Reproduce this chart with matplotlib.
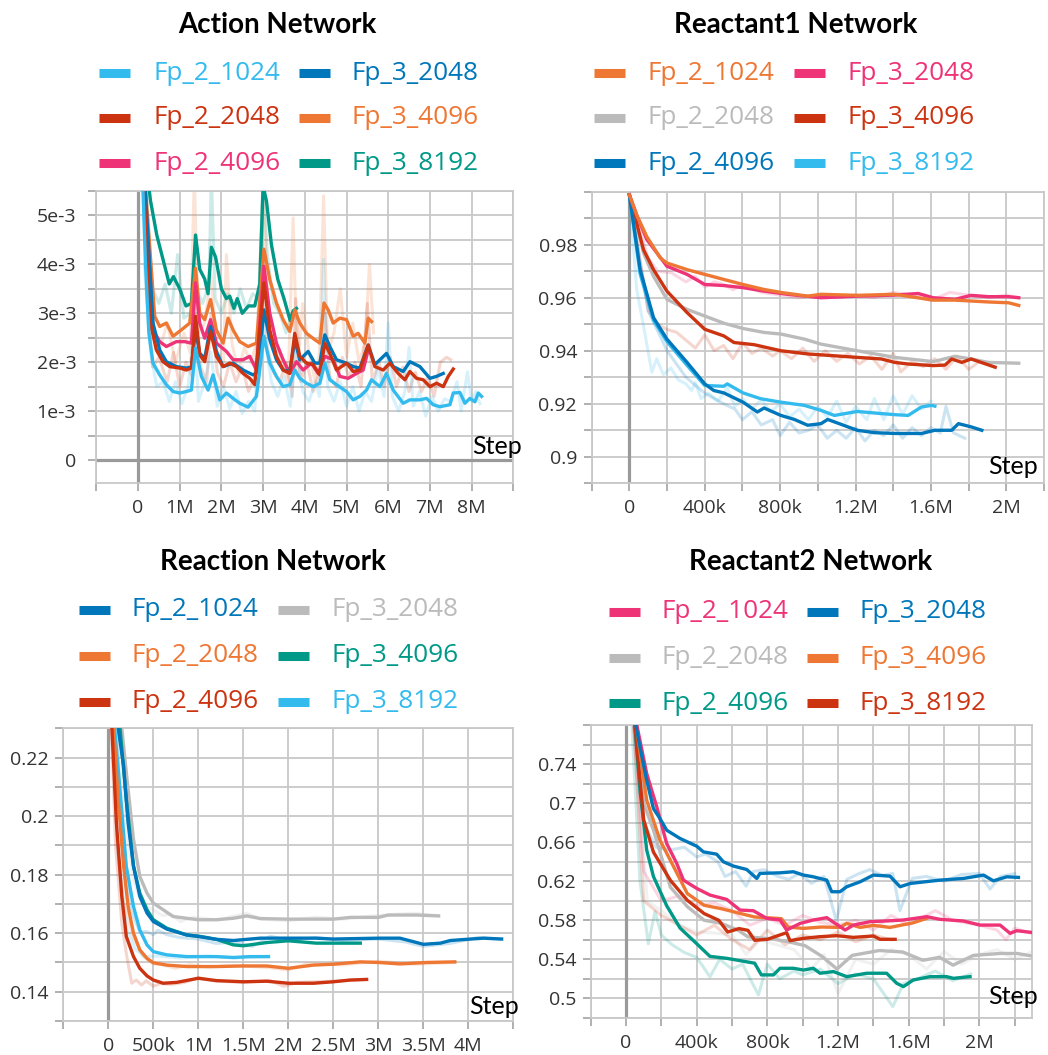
import matplotlib
matplotlib.use('Agg')
import matplotlib.pyplot as plt
from matplotlib.lines import Line2D
from matplotlib.ticker import FixedLocator, FixedFormatter

W, H = 1048, 1055
C_LB = '#33bbee'; C_DB = '#0077bb'; C_RD = '#cc3311'; C_OR = '#ee7733'
C_PK = '#ee3377'; C_TL = '#009988'; C_GR = '#bbbbbb'

# ---------------- Action Network (x in M steps, y in 1e-3) ----------------
act_fp2_1024_x = [0.1, 0.18, 0.26, 0.36, 0.52, 0.68, 0.84, 1.0, 1.16, 1.28, 1.38, 1.52, 1.68, 1.8, 1.96, 2.12, 2.28, 2.44, 2.64, 2.84, 3.02, 3.16, 3.32, 3.48, 3.64, 3.76, 3.88, 4.04, 4.2, 4.36, 4.48, 4.6, 4.76, 5.0, 5.16, 5.32, 5.48, 5.6, 5.8, 5.96, 6.12, 6.36, 6.52, 6.76, 6.92, 7.08, 7.24, 7.48, 7.56, 7.72, 7.84, 7.96, 8.08, 8.16, 8.24]
act_fp2_1024_y = [6.0, 4.0, 2.6, 1.98, 1.74, 1.54, 1.40, 1.37, 1.40, 1.43, 2.29, 1.71, 1.43, 1.74, 1.23, 1.37, 1.26, 1.16, 1.08, 1.30, 2.53, 1.98, 1.71, 1.50, 1.54, 1.84, 1.67, 1.57, 1.50, 1.57, 1.98, 1.64, 1.54, 1.40, 1.23, 1.30, 1.43, 1.64, 1.50, 1.77, 1.43, 1.16, 1.23, 1.23, 1.26, 1.13, 1.09, 1.13, 1.37, 1.38, 1.16, 1.26, 1.19, 1.37, 1.30]
act_fp2_2048_x = [0.12, 0.28, 0.44, 0.6, 0.76, 1.0, 1.16, 1.28, 1.38, 1.48, 1.6, 1.74, 1.88, 2.04, 2.2, 2.36, 2.52, 2.68, 2.8, 3.02, 3.16, 3.32, 3.48, 3.64, 3.76, 3.88, 4.04, 4.2, 4.36, 4.48, 4.6, 4.76, 5.0, 5.16, 5.32, 5.52, 5.68, 5.88, 6.04, 6.24, 6.4, 6.52, 6.68, 6.84, 7.0, 7.16, 7.32, 7.44, 7.56]
act_fp2_2048_y = [6.0, 2.87, 2.25, 2.01, 1.91, 1.88, 1.84, 1.88, 2.94, 2.15, 2.01, 2.63, 2.12, 1.91, 1.98, 1.91, 1.77, 1.67, 1.54, 3.62, 2.66, 2.12, 1.84, 1.77, 2.59, 2.12, 1.98, 1.95, 1.74, 2.39, 2.18, 1.84, 1.98, 1.81, 1.84, 2.35, 1.91, 1.84, 1.98, 1.77, 1.64, 1.81, 1.67, 1.64, 1.50, 1.57, 1.50, 1.71, 1.86]
act_fp2_4096_x = [0.14, 0.36, 0.52, 0.68, 0.92, 1.12, 1.28, 1.38, 1.48, 1.6, 1.74, 1.88, 2.12, 2.28, 2.52, 2.68, 2.84, 3.02, 3.16, 3.32, 3.48, 3.64, 3.8, 3.96, 4.16, 4.32, 4.48, 4.68, 4.84, 5.04, 5.24, 5.4, 5.52]
act_fp2_4096_y = [6.0, 2.66, 2.42, 2.32, 2.42, 2.42, 2.39, 3.62, 2.8, 2.49, 2.87, 2.39, 2.22, 2.05, 2.05, 2.12, 1.84, 3.96, 3.0, 2.39, 2.05, 1.77, 2.01, 1.84, 1.98, 1.77, 2.12, 2.05, 1.71, 1.67, 1.77, 1.84, 2.25]
act_fp3_2048_x = [0.14, 0.36, 0.52, 0.68, 0.92, 1.16, 1.28, 1.38, 1.48, 1.6, 1.74, 1.88, 2.04, 2.28, 2.52, 2.76, 2.88, 3.02, 3.16, 3.32, 3.48, 3.64, 3.76, 3.88, 4.08, 4.24, 4.36, 4.48, 4.6, 4.76, 5.0, 5.16, 5.32, 5.52, 5.68, 5.96, 6.12, 6.36, 6.52, 6.76, 7.0, 7.16, 7.32]
act_fp3_2048_y = [6.0, 2.8, 2.25, 2.01, 1.91, 1.88, 1.9, 2.66, 2.18, 2.08, 2.73, 2.22, 1.91, 1.98, 1.84, 1.74, 1.8, 3.07, 2.46, 2.05, 1.84, 1.81, 2.46, 2.05, 2.22, 1.98, 1.98, 2.56, 2.32, 2.05, 1.98, 1.91, 1.88, 2.35, 1.95, 2.18, 1.91, 1.81, 2.01, 1.91, 1.67, 1.71, 1.77]
act_fp3_4096_x = [0.14, 0.4, 0.52, 0.68, 0.84, 1.04, 1.24, 1.38, 1.48, 1.6, 1.74, 1.88, 2.04, 2.16, 2.28, 2.44, 2.64, 2.84, 3.02, 3.16, 3.32, 3.48, 3.64, 3.76, 3.88, 4.04, 4.24, 4.36, 4.46, 4.56, 4.68, 4.84, 5.0, 5.16, 5.28, 5.44, 5.52, 5.6]
act_fp3_4096_y = [6.0, 2.94, 2.73, 2.8, 2.53, 2.66, 2.8, 3.92, 3.0, 2.87, 3.28, 2.66, 2.39, 2.9, 2.66, 2.42, 2.32, 2.39, 4.31, 3.69, 3.21, 2.87, 2.63, 3.07, 2.8, 2.59, 2.46, 2.39, 3.21, 3.07, 2.8, 2.9, 2.87, 2.53, 2.59, 2.39, 2.9, 2.83]
act_fp3_8192_x = [0.2, 0.3, 0.45, 0.6, 0.75, 0.85, 1.0, 1.15, 1.28, 1.38, 1.48, 1.6, 1.68, 1.76, 1.86, 2.0, 2.12, 2.2, 2.3, 2.38, 2.5, 2.65, 2.8, 2.92, 3.0, 3.08, 3.2, 3.35, 3.5, 3.65, 3.72, 3.8]
act_fp3_8192_y = [6.0, 5.3, 4.6, 4.1, 3.6, 3.75, 3.5, 3.15, 3.2, 4.6, 3.9, 3.7, 3.4, 4.35, 4.15, 3.5, 3.3, 3.35, 3.1, 3.3, 3.0, 3.15, 3.15, 3.6, 5.6, 5.3, 4.4, 3.7, 3.3, 2.85, 3.05, 3.1]
# raw (unsmoothed, faint) traces
act_raw_fp2_1024_x = [0.15, 0.3, 0.45, 0.6, 0.75, 0.9, 1.05, 1.2, 1.35, 1.45, 1.6, 1.75, 1.9, 2.05, 2.2, 2.35, 2.5, 2.65, 2.8, 2.95, 3.05, 3.2, 3.35, 3.5, 3.65, 3.8, 3.95, 4.1, 4.25, 4.35, 4.45, 4.55, 4.7, 4.85, 5.0, 5.15, 5.3, 5.45, 5.6, 5.75, 5.9, 6.0, 6.1, 6.25, 6.4, 6.5, 6.6, 6.75, 6.9, 7.05, 7.2, 7.35, 7.5, 7.65, 7.75, 7.9, 8.0, 8.1, 8.2]
act_raw_fp2_1024_y = [4.0, 2.2, 1.5, 1.6, 1.2, 1.6, 1.15, 1.5, 2.8, 1.2, 1.6, 2.2, 1.1, 1.5, 1.05, 1.4, 0.95, 1.2, 1.0, 3.3, 2.4, 1.6, 1.3, 1.7, 1.1, 2.3, 1.4, 1.2, 1.6, 1.3, 4.1, 1.5, 1.2, 1.6, 1.1, 1.5, 1.0, 1.4, 1.2, 1.9, 1.3, 2.8, 1.3, 1.0, 1.4, 2.3, 1.1, 1.4, 0.9, 1.3, 1.0, 1.25, 1.2, 1.6, 1.0, 1.8, 1.2, 1.4, 1.15]
act_raw_fp3_4096_x = [0.1, 0.3, 0.5, 0.7, 0.9, 1.1, 1.25, 1.35, 1.45, 1.6, 1.75, 1.9, 2.05, 2.12, 2.25, 2.4, 2.55, 2.7, 2.85, 3.0, 3.15, 3.3, 3.45, 3.6, 3.72, 3.82, 3.95, 4.1, 4.25, 4.35, 4.45, 4.55, 4.7, 4.85, 5.0, 5.15, 5.3, 5.45, 5.55, 5.65]
act_raw_fp3_4096_y = [6.0, 3.0, 2.2, 2.8, 2.0, 2.6, 2.2, 5.8, 2.6, 2.8, 3.8, 2.2, 2.0, 4.2, 2.4, 1.8, 2.3, 2.0, 2.4, 5.6, 2.5, 2.4, 2.0, 1.6, 4.95, 1.8, 3.2, 2.2, 1.6, 2.2, 5.4, 2.2, 2.6, 3.5, 2.1, 2.8, 2.0, 2.4, 4.0, 2.6]
act_raw_fp2_2048_x = [0.2, 0.35, 0.5, 0.7, 0.85, 1.0, 1.15, 1.3, 1.38, 1.5, 1.65, 1.75, 1.9, 2.05, 2.2, 2.35, 2.5, 2.65, 2.8, 2.98, 3.1, 3.25, 3.4, 3.55, 3.7, 3.78, 3.9, 4.05, 4.2, 4.35, 4.48, 4.6, 4.75, 4.9, 5.05, 5.2, 5.35, 5.5, 5.62, 5.78, 5.9, 6.05, 6.2, 6.35, 6.5, 6.65, 6.8, 6.95, 7.1, 7.25, 7.4, 7.5]
act_raw_fp2_2048_y = [3.5, 1.9, 2.1, 1.6, 2.2, 1.5, 2.0, 1.7, 3.3, 1.9, 1.6, 3.0, 1.8, 1.5, 2.0, 1.6, 1.9, 1.4, 1.7, 4.0, 2.3, 1.8, 1.6, 2.0, 1.3, 3.3, 1.6, 2.0, 1.4, 1.8, 3.0, 1.7, 1.5, 2.1, 1.7, 2.0, 1.5, 3.2, 1.6, 2.0, 1.5, 2.1, 1.5, 1.9, 1.4, 1.8, 1.4, 1.7, 1.3, 2.0, 2.1, 2.05]
act_raw_fp3_8192_x = [0.2, 0.35, 0.5, 0.65, 0.8, 0.95, 1.1, 1.25, 1.4, 1.55, 1.7, 1.76, 1.85, 2.0, 2.15, 2.3, 2.45, 2.6, 2.75, 2.9, 3.0, 3.1, 3.25, 3.4, 3.55, 3.7, 3.8]
act_raw_fp3_8192_y = [5.5, 3.5, 3.2, 3.6, 3.0, 4.2, 2.9, 3.0, 3.5, 3.2, 3.6, 5.8, 3.3, 3.0, 3.4, 3.0, 3.5, 3.1, 3.4, 3.3, 5.8, 4.2, 3.2, 3.0, 2.6, 3.0, 2.9]
act_xticks = [-1, 0, 1, 2, 3, 4, 5, 6, 7, 8, 9]
act_xlabels = ['', '0', '1M', '2M', '3M', '4M', '5M', '6M', '7M', '8M', '']
act_yticks = [-0.5, 0, 0.5, 1, 1.5, 2, 2.5, 3, 3.5, 4, 4.5, 5, 5.5]
act_ylabels = ['', '0', '', '1e-3', '', '2e-3', '', '3e-3', '', '4e-3', '', '5e-3', '']

# ---------------- Reactant1 Network (x in M steps) ----------------
r1_fp2_1024_x = [0, 0.04, 0.092, 0.164, 0.199, 0.306, 0.4, 0.501, 0.603, 0.715, 0.804, 0.946, 1.017, 1.209, 1.408, 1.612, 1.728, 1.906, 2.012, 2.066]
r1_fp2_1024_y = [0.9988, 0.991, 0.9831, 0.975, 0.9731, 0.9706, 0.9688, 0.9669, 0.965, 0.9631, 0.962, 0.9606, 0.9613, 0.9609, 0.9613, 0.9591, 0.9591, 0.9584, 0.9581, 0.9571]
r1_fp3_2048_x = [0, 0.04, 0.092, 0.199, 0.306, 0.4, 0.501, 0.603, 0.715, 0.839, 1.017, 1.209, 1.408, 1.532, 1.612, 1.728, 1.813, 1.906, 2.012, 2.066]
r1_fp3_2048_y = [0.9988, 0.991, 0.982, 0.9719, 0.9688, 0.965, 0.9646, 0.9638, 0.9625, 0.9613, 0.96, 0.9606, 0.961, 0.9616, 0.96, 0.9594, 0.9609, 0.9604, 0.9604, 0.96]
r1_fp2_2048_x = [0, 0.075, 0.128, 0.199, 0.306, 0.4, 0.501, 0.603, 0.715, 0.804, 0.928, 1.017, 1.209, 1.408, 1.612, 1.728, 1.813, 1.906, 2.066]
r1_fp2_2048_y = [0.9988, 0.9769, 0.9681, 0.9594, 0.9556, 0.9531, 0.9504, 0.9484, 0.9469, 0.9463, 0.9444, 0.9425, 0.94, 0.9375, 0.9359, 0.9379, 0.9369, 0.9356, 0.9353]
r1_fp3_4096_x = [0, 0.075, 0.128, 0.199, 0.306, 0.4, 0.501, 0.555, 0.661, 0.804, 0.946, 1.088, 1.209, 1.337, 1.408, 1.479, 1.612, 1.675, 1.71, 1.764, 1.813, 1.941]
r1_fp3_4096_y = [0.9988, 0.9781, 0.9706, 0.9625, 0.9544, 0.9481, 0.9456, 0.9431, 0.9423, 0.94, 0.9388, 0.9381, 0.9375, 0.9369, 0.9356, 0.935, 0.9344, 0.9346, 0.9369, 0.9356, 0.9369, 0.9338]
r1_fp2_4096_x = [0, 0.057, 0.128, 0.199, 0.306, 0.4, 0.448, 0.501, 0.603, 0.679, 0.715, 0.804, 0.875, 0.946, 1.017, 1.052, 1.209, 1.301, 1.408, 1.55, 1.621, 1.71, 1.746, 1.813, 1.87]
r1_fp2_4096_y = [0.9988, 0.9706, 0.9525, 0.9444, 0.9356, 0.9275, 0.925, 0.9241, 0.9206, 0.9169, 0.9184, 0.9156, 0.9141, 0.9119, 0.9125, 0.9141, 0.91, 0.9091, 0.9088, 0.9088, 0.91, 0.91, 0.9125, 0.9113, 0.91]
r1_fp3_8192_x = [0, 0.057, 0.128, 0.199, 0.306, 0.4, 0.501, 0.519, 0.603, 0.697, 0.804, 0.928, 1.017, 1.088, 1.209, 1.337, 1.408, 1.479, 1.55, 1.604, 1.621]
r1_fp3_8192_y = [0.9988, 0.969, 0.9515, 0.9435, 0.9345, 0.9269, 0.9266, 0.9275, 0.9241, 0.9219, 0.9206, 0.9194, 0.9175, 0.9156, 0.9171, 0.9163, 0.9159, 0.9156, 0.9188, 0.9194, 0.9191]
r1_raw_fp3_8192_x = [0, 0.039, 0.075, 0.119, 0.145, 0.18, 0.22, 0.26, 0.3, 0.33, 0.35, 0.38, 0.42, 0.47, 0.52, 0.56, 0.6, 0.65, 0.7, 0.75, 0.8, 0.85, 0.9, 0.95, 1.0, 1.05, 1.1, 1.15, 1.2, 1.26, 1.3, 1.35, 1.4, 1.45, 1.5, 1.55, 1.6]
r1_raw_fp3_8192_y = [0.9988, 0.963, 0.9494, 0.9319, 0.937, 0.931, 0.9335, 0.929, 0.9275, 0.925, 0.928, 0.922, 0.924, 0.921, 0.926, 0.919, 0.922, 0.918, 0.9215, 0.917, 0.92, 0.915, 0.918, 0.914, 0.919, 0.915, 0.921, 0.913, 0.919, 0.914, 0.922, 0.914, 0.923, 0.916, 0.923, 0.918, 0.921]
r1_raw_fp2_4096_x = [0, 0.1, 0.2, 0.3, 0.4, 0.45, 0.5, 0.56, 0.6, 0.65, 0.7, 0.76, 0.8, 0.85, 0.9, 0.95, 1.0, 1.05, 1.1, 1.15, 1.2, 1.25, 1.3, 1.35, 1.4, 1.45, 1.5, 1.55, 1.6, 1.65, 1.68, 1.72, 1.78]
r1_raw_fp2_4096_y = [0.9988, 0.955, 0.94, 0.93, 0.924, 0.922, 0.92, 0.918, 0.914, 0.917, 0.912, 0.914, 0.908, 0.913, 0.909, 0.91, 0.912, 0.907, 0.91, 0.907, 0.911, 0.906, 0.91, 0.908, 0.912, 0.907, 0.911, 0.908, 0.911, 0.909, 0.919, 0.909, 0.907]
r1_raw_fp3_4096_x = [0, 0.1, 0.15, 0.2, 0.25, 0.3, 0.35, 0.4, 0.45, 0.5, 0.55, 0.6, 0.65, 0.7, 0.76, 0.8, 0.86, 0.92, 0.98, 1.04, 1.1, 1.16, 1.22, 1.28, 1.34, 1.4, 1.44, 1.5, 1.56, 1.62, 1.68, 1.74, 1.8, 1.86, 1.93]
r1_raw_fp3_4096_y = [0.9988, 0.955, 0.95, 0.948, 0.947, 0.944, 0.941, 0.946, 0.94, 0.942, 0.937, 0.943, 0.939, 0.941, 0.938, 0.94, 0.937, 0.941, 0.936, 0.94, 0.936, 0.939, 0.935, 0.938, 0.933, 0.939, 0.932, 0.936, 0.934, 0.937, 0.933, 0.938, 0.933, 0.936, 0.934]
r1_raw_fp3_2048_x = [0, 0.1, 0.15, 0.22, 0.3, 0.35, 0.4, 0.45, 0.5, 0.55, 0.6, 0.7, 0.8, 0.9, 1.0, 1.1, 1.2, 1.3, 1.4, 1.5, 1.6, 1.7, 1.8, 1.9, 2.0, 2.066]
r1_raw_fp3_2048_y = [0.9988, 0.975, 0.97, 0.9695, 0.966, 0.968, 0.964, 0.966, 0.965, 0.963, 0.965, 0.962, 0.961, 0.96, 0.961, 0.96, 0.961, 0.96, 0.962, 0.961, 0.959, 0.962, 0.961, 0.96, 0.961, 0.96]
r1_xticks = [-0.2, 0, 0.2, 0.4, 0.6, 0.8, 1.0, 1.2, 1.4, 1.6, 1.8, 2.0, 2.2]
r1_xlabels = ['', '0', '', '400k', '', '800k', '', '1.2M', '', '1.6M', '', '2M', '']
r1_yticks = [0.89, 0.9, 0.91, 0.92, 0.93, 0.94, 0.95, 0.96, 0.97, 0.98, 0.99, 1.0]
r1_ylabels = ['', '0.9', '', '0.92', '', '0.94', '', '0.96', '', '0.98', '', '']

# ---------------- Reaction Network (x in M steps) ----------------
rx_fp2_1024_x = [0.08, 0.11, 0.17, 0.22, 0.28, 0.35, 0.43, 0.5, 0.65, 0.87, 1.0, 1.2, 1.39, 1.69, 2.0, 2.31, 2.5, 3.0, 3.24, 3.39, 3.5, 3.69, 3.8, 3.98, 4.17, 4.37]
rx_fp2_1024_y = [0.26, 0.23, 0.2171, 0.1977, 0.1829, 0.1726, 0.1669, 0.164, 0.1614, 0.1594, 0.1589, 0.1579, 0.1575, 0.1583, 0.1583, 0.1583, 0.158, 0.1583, 0.1583, 0.1571, 0.1562, 0.1566, 0.1575, 0.1579, 0.1583, 0.158]
rx_fp2_2048_x = [0.04, 0.06, 0.11, 0.17, 0.22, 0.28, 0.35, 0.43, 0.5, 0.65, 0.87, 1.2, 1.5, 1.76, 2.0, 2.28, 2.5, 2.8, 3.0, 3.24, 3.54, 3.85]
rx_fp2_2048_y = [0.26, 0.23, 0.2057, 0.1829, 0.1691, 0.16, 0.1543, 0.1514, 0.1499, 0.1491, 0.1486, 0.1486, 0.1488, 0.1488, 0.148, 0.1491, 0.1494, 0.1502, 0.15, 0.1495, 0.15, 0.1502]
rx_fp2_4096_x = [0.02, 0.04, 0.09, 0.15, 0.2, 0.28, 0.35, 0.43, 0.5, 0.61, 0.76, 1.0, 1.2, 1.5, 1.76, 2.0, 2.28, 2.5, 2.69, 2.87]
rx_fp2_4096_y = [0.26, 0.23, 0.1977, 0.1726, 0.1589, 0.152, 0.148, 0.1454, 0.144, 0.1429, 0.1432, 0.1446, 0.1438, 0.1434, 0.1436, 0.1429, 0.1429, 0.1434, 0.144, 0.1442]
rx_fp3_2048_x = [0.12, 0.15, 0.2, 0.28, 0.35, 0.43, 0.5, 0.61, 0.72, 0.87, 1.0, 1.2, 1.39, 1.54, 1.69, 2.0, 2.28, 2.5, 2.69, 3.0, 3.11, 3.43, 3.67]
rx_fp3_2048_y = [0.26, 0.23, 0.2149, 0.192, 0.1794, 0.1737, 0.1703, 0.168, 0.1657, 0.1651, 0.1646, 0.1646, 0.1651, 0.1659, 0.165, 0.1648, 0.1648, 0.1648, 0.1654, 0.1654, 0.1662, 0.1662, 0.1659]
rx_fp3_4096_x = [0.1, 0.13, 0.2, 0.28, 0.35, 0.43, 0.5, 0.65, 0.87, 1.02, 1.2, 1.39, 1.5, 1.76, 2.0, 2.31, 2.5, 2.8]
rx_fp3_4096_y = [0.26, 0.23, 0.2057, 0.1829, 0.1737, 0.168, 0.1646, 0.1617, 0.1594, 0.1589, 0.1579, 0.156, 0.1557, 0.1568, 0.1574, 0.1566, 0.1566, 0.1566]
rx_fp3_8192_x = [0.05, 0.07, 0.13, 0.2, 0.28, 0.35, 0.43, 0.5, 0.65, 0.87, 1.2, 1.39, 1.57, 1.78]
rx_fp3_8192_y = [0.26, 0.23, 0.2091, 0.1829, 0.1691, 0.1611, 0.156, 0.1537, 0.1526, 0.152, 0.152, 0.1517, 0.152, 0.152]
rx_raw_fp2_4096_x = [0.0, 0.08, 0.15, 0.2, 0.26, 0.31, 0.37, 0.42, 0.5, 0.58, 0.7, 0.85, 1.0, 1.2, 1.5, 1.8, 1.95, 2.1, 2.5, 2.87]
rx_raw_fp2_4096_y = [0.26, 0.19, 0.1634, 0.1531, 0.1429, 0.144, 0.1423, 0.1437, 0.1419, 0.1428, 0.1425, 0.1432, 0.1448, 0.1436, 0.1432, 0.1438, 0.1418, 0.1432, 0.1436, 0.1442]
rx_raw_fp2_2048_x = [0.02, 0.1, 0.17, 0.28, 0.39, 0.5, 0.6, 0.75, 0.9, 1.1, 1.4, 1.8, 2.0, 2.2, 2.6, 3.0, 3.4, 3.85]
rx_raw_fp2_2048_y = [0.26, 0.19, 0.1703, 0.1583, 0.152, 0.1495, 0.1492, 0.148, 0.1493, 0.1484, 0.149, 0.1482, 0.1474, 0.1496, 0.1492, 0.1504, 0.1494, 0.15]
rx_raw_fp3_8192_x = [0.03, 0.1, 0.2, 0.3, 0.4, 0.55, 0.8, 1.1, 1.4, 1.78]
rx_raw_fp3_8192_y = [0.26, 0.19, 0.162, 0.1545, 0.152, 0.1522, 0.1515, 0.1522, 0.1515, 0.152]
rx_raw_fp2_1024_x = [0.06, 0.15, 0.25, 0.35, 0.43, 0.5, 0.55, 0.65, 0.8, 1.0, 1.2, 1.4, 1.6, 1.8, 2.0, 2.3, 2.6, 3.0, 3.3, 3.5, 3.8, 4.1, 4.37]
rx_raw_fp2_1024_y = [0.26, 0.19, 0.168, 0.1605, 0.1605, 0.1595, 0.161, 0.1595, 0.1585, 0.158, 0.1565, 0.157, 0.1555, 0.159, 0.1575, 0.1585, 0.1575, 0.158, 0.157, 0.1555, 0.1565, 0.1585, 0.158]
rx_raw_fp3_2048_x = [0.1, 0.18, 0.28, 0.38, 0.5, 0.6, 0.7, 0.8, 0.95, 1.2, 1.54, 1.7, 2.0, 2.3, 2.6, 2.9, 3.2, 3.4, 3.67]
rx_raw_fp3_2048_y = [0.26, 0.2, 0.178, 0.17, 0.168, 0.166, 0.1665, 0.164, 0.1655, 0.1645, 0.1668, 0.1648, 0.1642, 0.1655, 0.1648, 0.1658, 0.1665, 0.1668, 0.166]
rx_xticks = [-0.5, 0, 0.5, 1, 1.5, 2, 2.5, 3, 3.5, 4, 4.5]
rx_xlabels = ['', '0', '500k', '1M', '1.5M', '2M', '2.5M', '3M', '3.5M', '4M', '']
rx_yticks = [0.13, 0.14, 0.15, 0.16, 0.17, 0.18, 0.19, 0.2, 0.21, 0.22, 0.23]
rx_ylabels = ['', '0.14', '', '0.16', '', '0.18', '', '0.2', '', '0.22', '']

# ---------------- Reactant2 Network (x in M steps) ----------------
r2_fp2_1024_x = [0.05, 0.117, 0.174, 0.23, 0.287, 0.325, 0.4, 0.475, 0.57, 0.645, 0.721, 0.796, 0.872, 0.909, 0.985, 1.06, 1.136, 1.24, 1.287, 1.381, 1.475, 1.57, 1.702, 1.777, 1.909, 2.004, 2.117, 2.174, 2.211, 2.296]
r2_fp2_1024_y = [0.79, 0.7304, 0.6963, 0.6588, 0.6383, 0.6212, 0.6127, 0.6059, 0.6014, 0.5905, 0.5898, 0.582, 0.5803, 0.57, 0.5768, 0.5803, 0.5827, 0.57, 0.5751, 0.5786, 0.5793, 0.5803, 0.5837, 0.581, 0.5793, 0.5751, 0.5751, 0.5666, 0.5693, 0.5676]
r2_fp2_2048_x = [0.045, 0.1, 0.156, 0.251, 0.347, 0.442, 0.537, 0.633, 0.69, 0.823, 0.918, 1.013, 1.109, 1.194, 1.28, 1.432, 1.566, 1.68, 1.775, 1.851, 1.966, 2.118, 2.213, 2.309]
r2_fp2_2048_y = [0.79, 0.70, 0.672, 0.614, 0.594, 0.58, 0.577, 0.57, 0.563, 0.561, 0.558, 0.554, 0.543, 0.530, 0.544, 0.549, 0.5475, 0.539, 0.542, 0.534, 0.544, 0.546, 0.546, 0.543]
r2_fp2_4096_x = [0.045, 0.079, 0.117, 0.155, 0.23, 0.306, 0.4, 0.475, 0.57, 0.633, 0.728, 0.766, 0.834, 0.872, 0.947, 1.004, 1.06, 1.098, 1.174, 1.249, 1.362, 1.475, 1.532, 1.57, 1.626, 1.721, 1.815, 1.853, 1.947]
r2_fp2_4096_y = [0.79, 0.713, 0.652, 0.625, 0.595, 0.572, 0.556, 0.543, 0.541, 0.539, 0.536, 0.524, 0.524, 0.5308, 0.5308, 0.529, 0.5308, 0.5257, 0.5274, 0.5222, 0.5257, 0.5257, 0.5154, 0.512, 0.5188, 0.5222, 0.5222, 0.5205, 0.5222]
r2_fp3_2048_x = [0.045, 0.079, 0.117, 0.155, 0.192, 0.23, 0.306, 0.4, 0.438, 0.513, 0.551, 0.608, 0.683, 0.74, 0.758, 0.872, 0.947, 1.004, 1.06, 1.136, 1.164, 1.211, 1.249, 1.325, 1.4, 1.494, 1.551, 1.608, 1.777, 1.909, 2.023, 2.079, 2.155, 2.221]
r2_fp3_2048_y = [0.79, 0.7577, 0.7236, 0.6946, 0.6844, 0.6724, 0.6639, 0.656, 0.6502, 0.6478, 0.64, 0.6356, 0.6321, 0.6229, 0.6281, 0.6287, 0.6298, 0.6264, 0.6246, 0.6212, 0.6093, 0.6093, 0.6144, 0.6195, 0.6264, 0.6253, 0.6144, 0.6178, 0.6212, 0.6229, 0.6264, 0.6205, 0.6246, 0.624]
r2_fp3_4096_x = [0.05, 0.117, 0.192, 0.251, 0.347, 0.442, 0.537, 0.645, 0.728, 0.879, 0.917, 1.004, 1.106, 1.211, 1.249, 1.325, 1.4, 1.494, 1.626, 1.702]
r2_fp3_4096_y = [0.79, 0.7031, 0.6622, 0.6415, 0.6074, 0.5954, 0.592, 0.5871, 0.5834, 0.5817, 0.5731, 0.5717, 0.5731, 0.5727, 0.5768, 0.5727, 0.5748, 0.5727, 0.5775, 0.582]
r2_fp3_8192_x = [0.045, 0.1, 0.155, 0.251, 0.347, 0.442, 0.525, 0.575, 0.64, 0.69, 0.728, 0.8, 0.87, 0.909, 0.928, 1.004, 1.098, 1.192, 1.287, 1.4, 1.438, 1.523]
r2_fp3_8192_y = [0.79, 0.683, 0.65, 0.621, 0.6005, 0.5869, 0.58, 0.568, 0.5715, 0.5697, 0.5595, 0.5605, 0.5649, 0.5673, 0.5591, 0.5615, 0.5632, 0.5642, 0.5625, 0.5639, 0.5605, 0.5605]
r2_raw_fp2_4096_x = [0.03, 0.079, 0.126, 0.164, 0.2, 0.26, 0.33, 0.4, 0.475, 0.53, 0.6, 0.66, 0.749, 0.8, 0.87, 0.95, 1.0, 1.1, 1.2, 1.3, 1.4, 1.51, 1.57, 1.65, 1.75, 1.85, 1.95]
r2_raw_fp2_4096_y = [0.79, 0.62, 0.556, 0.589, 0.565, 0.555, 0.547, 0.542, 0.522, 0.54, 0.53, 0.535, 0.5035, 0.535, 0.52, 0.528, 0.524, 0.53, 0.515, 0.525, 0.52, 0.4915, 0.515, 0.52, 0.528, 0.518, 0.525]
r2_raw_fp3_2048_x = [0.04, 0.1, 0.17, 0.25, 0.33, 0.4, 0.45, 0.52, 0.56, 0.62, 0.68, 0.72, 0.78, 0.86, 0.92, 0.98, 1.05, 1.12, 1.19, 1.25, 1.32, 1.38, 1.45, 1.51, 1.55, 1.62, 1.7, 1.8, 1.9, 2.0, 2.06, 2.12, 2.2]
r2_raw_fp3_2048_y = [0.79, 0.68, 0.655, 0.652, 0.655, 0.645, 0.648, 0.64, 0.625, 0.63, 0.615, 0.63, 0.632, 0.625, 0.622, 0.628, 0.618, 0.625, 0.58, 0.622, 0.628, 0.632, 0.626, 0.628, 0.59, 0.623, 0.625, 0.62, 0.627, 0.628, 0.612, 0.625, 0.628]
r2_raw_fp2_2048_x = [0.04, 0.12, 0.2, 0.3, 0.4, 0.5, 0.6, 0.68, 0.76, 0.85, 0.95, 1.05, 1.12, 1.2, 1.3, 1.4, 1.5, 1.6, 1.7, 1.8, 1.9, 2.0, 2.1, 2.2, 2.3]
r2_raw_fp2_2048_y = [0.79, 0.6, 0.59, 0.575, 0.568, 0.567, 0.565, 0.545, 0.56, 0.555, 0.55, 0.53, 0.545, 0.505, 0.54, 0.535, 0.55, 0.545, 0.53, 0.548, 0.535, 0.545, 0.55, 0.54, 0.548]
r2_raw_fp2_1024_x = [0.04, 0.1, 0.2, 0.3, 0.4, 0.5, 0.6, 0.7, 0.8, 0.9, 1.0, 1.1, 1.2, 1.3, 1.4, 1.5, 1.6, 1.7, 1.75, 1.85, 2.0, 2.1, 2.15, 2.2, 2.3]
r2_raw_fp2_1024_y = [0.79, 0.63, 0.6, 0.605, 0.595, 0.598, 0.59, 0.575, 0.582, 0.575, 0.585, 0.578, 0.575, 0.58, 0.57, 0.585, 0.575, 0.585, 0.59, 0.58, 0.575, 0.57, 0.56, 0.572, 0.566]
r2_raw_fp3_8192_x = [0.04, 0.1, 0.2, 0.3, 0.4, 0.5, 0.6, 0.7, 0.8, 0.9, 1.0, 1.1, 1.2, 1.3, 1.4, 1.5]
r2_raw_fp3_8192_y = [0.79, 0.6, 0.585, 0.575, 0.565, 0.575, 0.56, 0.55, 0.57, 0.555, 0.565, 0.56, 0.568, 0.558, 0.565, 0.56]
r2_xticks = [-0.2, 0, 0.2, 0.4, 0.6, 0.8, 1.0, 1.2, 1.4, 1.6, 1.8, 2.0, 2.2]
r2_xlabels = ['', '0', '', '400k', '', '800k', '', '1.2M', '', '1.6M', '', '2M', '']
r2_yticks = [0.48, 0.5, 0.52, 0.54, 0.56, 0.58, 0.6, 0.62, 0.64, 0.66, 0.68, 0.7, 0.72, 0.74, 0.76, 0.78]
r2_ylabels = ['', '0.5', '', '0.54', '', '0.58', '', '0.62', '', '0.66', '', '0.7', '', '0.74', '', '']

legend_labels = ['Fp_2_1024', 'Fp_2_2048', 'Fp_2_4096', 'Fp_3_2048', 'Fp_3_4096', 'Fp_3_8192']

# ---------------------------------------------------------------------------
fig = plt.figure(figsize=(W / 100, H / 100), dpi=100)
GRID = '#c8c8c8'
TICKC = '#333333'


def make_axes(rect_px, xlim, ylim, xt, xl, yt, yl, ypad):
    x0, y0, x1, y1 = rect_px
    ax = fig.add_axes([x0 / W, 1 - y1 / H, (x1 - x0) / W, (y1 - y0) / H])
    ax.set_xlim(xlim)
    ax.set_ylim(ylim)
    ax.xaxis.set_major_locator(FixedLocator(xt))
    ax.xaxis.set_major_formatter(FixedFormatter(xl))
    ax.yaxis.set_major_locator(FixedLocator(yt))
    ax.yaxis.set_major_formatter(FixedFormatter(yl))
    ax.grid(True, color=GRID, lw=1.3, zorder=0)
    ax.set_axisbelow(True)
    for s in ax.spines.values():
        s.set_color(GRID)
        s.set_linewidth(1.3)
    ax.tick_params(axis='both', color='#aaaaaa', width=1.3, length=5.5,
                   labelcolor=TICKC, labelsize=14)
    ax.tick_params(axis='x', pad=6)
    ax.tick_params(axis='y', pad=ypad)
    for lab in ax.get_xticklabels() + ax.get_yticklabels():
        lab.set_fontfamily('Open Sans')
    ax.axvline(0, color='#9a9a9a', lw=2.3, zorder=1)
    return ax


def draw(ax, x, y, c, raw=False):
    if raw:
        ax.plot(x, y, color=c, lw=2.2, alpha=0.2, zorder=2, solid_joinstyle='round')
    else:
        ax.plot(x, y, color=c, lw=2.4, zorder=3, solid_joinstyle='round')


def legend(col1_px, col2_px, rows_px, colors):
    for i, (lab, c) in enumerate(zip(legend_labels, colors)):
        col = col1_px if i < 3 else col2_px
        yy = 1 - rows_px[i % 3] / H
        fig.add_artist(Line2D([col[0] / W, (col[0] + 31) / W], [yy, yy],
                              transform=fig.transFigure, color=c, lw=6.5,
                              solid_capstyle='butt'))
        fig.text(col[1] / W, yy, lab, color=c, fontsize=18.8, family='Open Sans',
                 va='center', ha='left')


def title(xc, yc, s):
    fig.text(xc / W, 1 - yc / H, s, fontsize=20, family='Lato', weight='bold',
             ha='center', va='center', color='black')


def step(x, y):
    fig.text(x / W, 1 - y / H, 'Step', fontsize=18, family='Lato',
             ha='left', va='center', color='black')


# Panel 1: Action Network
ax1 = make_axes((96.3, 191, 513.3, 483), (-1, 9), (-0.47, 5.5),
                act_xticks, act_xlabels, act_yticks, act_ylabels, 9)
ax1.axhline(0, color='#9a9a9a', lw=2.3, zorder=1)
draw(ax1, act_raw_fp3_8192_x, act_raw_fp3_8192_y, C_TL, True)
draw(ax1, act_raw_fp3_4096_x, act_raw_fp3_4096_y, C_OR, True)
draw(ax1, act_raw_fp2_2048_x, act_raw_fp2_2048_y, C_RD, True)
draw(ax1, act_raw_fp2_1024_x, act_raw_fp2_1024_y, C_LB, True)
draw(ax1, act_fp3_8192_x, act_fp3_8192_y, C_TL)
draw(ax1, act_fp3_4096_x, act_fp3_4096_y, C_OR)
draw(ax1, act_fp2_4096_x, act_fp2_4096_y, C_PK)
draw(ax1, act_fp3_2048_x, act_fp3_2048_y, C_DB)
draw(ax1, act_fp2_2048_x, act_fp2_2048_y, C_RD)
draw(ax1, act_fp2_1024_x, act_fp2_1024_y, C_LB)
title(277, 25, 'Action Network')
legend((99, 153), (299, 352), (73, 118, 163), [C_LB, C_RD, C_PK, C_DB, C_OR, C_TL])
step(472, 447)

# Panel 2: Reactant1 Network
ax2 = make_axes((591.7, 191.7, 1044, 483.3), (-0.2, 2.2), (0.89, 1.0),
                r1_xticks, r1_xlabels, r1_yticks, r1_ylabels, 5)
draw(ax2, r1_raw_fp3_8192_x, r1_raw_fp3_8192_y, C_LB, True)
draw(ax2, r1_raw_fp2_4096_x, r1_raw_fp2_4096_y, C_DB, True)
draw(ax2, r1_raw_fp3_4096_x, r1_raw_fp3_4096_y, C_RD, True)
draw(ax2, r1_raw_fp3_2048_x, r1_raw_fp3_2048_y, C_PK, True)
draw(ax2, r1_fp2_2048_x, r1_fp2_2048_y, C_GR)
draw(ax2, r1_fp3_4096_x, r1_fp3_4096_y, C_RD)
draw(ax2, r1_fp3_8192_x, r1_fp3_8192_y, C_LB)
draw(ax2, r1_fp2_4096_x, r1_fp2_4096_y, C_DB)
draw(ax2, r1_fp3_2048_x, r1_fp3_2048_y, C_PK)
draw(ax2, r1_fp2_1024_x, r1_fp2_1024_y, C_OR)
title(796, 25, 'Reactant1 Network')
legend((594, 647), (794, 847), (73, 118, 163), [C_OR, C_GR, C_DB, C_PK, C_RD, C_LB])
step(988, 467)

# Panel 3: Reaction Network
ax3 = make_axes((63.3, 728.3, 513.3, 1021), (-0.5, 4.5), (0.13, 0.23),
                rx_xticks, rx_xlabels, rx_yticks, rx_ylabels, 5)
draw(ax3, rx_raw_fp2_4096_x, rx_raw_fp2_4096_y, C_RD, True)
draw(ax3, rx_raw_fp2_2048_x, rx_raw_fp2_2048_y, C_OR, True)
draw(ax3, rx_raw_fp3_8192_x, rx_raw_fp3_8192_y, C_LB, True)
draw(ax3, rx_raw_fp2_1024_x, rx_raw_fp2_1024_y, C_DB, True)
draw(ax3, rx_raw_fp3_2048_x, rx_raw_fp3_2048_y, C_GR, True)
draw(ax3, rx_fp3_2048_x, rx_fp3_2048_y, C_GR)
draw(ax3, rx_fp3_4096_x, rx_fp3_4096_y, C_TL)
draw(ax3, rx_fp2_1024_x, rx_fp2_1024_y, C_DB)
draw(ax3, rx_fp3_8192_x, rx_fp3_8192_y, C_LB)
draw(ax3, rx_fp2_2048_x, rx_fp2_2048_y, C_OR)
draw(ax3, rx_fp2_4096_x, rx_fp2_4096_y, C_RD)
title(273, 562, 'Reaction Network')
legend((79, 132), (278, 332), (610, 656, 702), [C_DB, C_OR, C_RD, C_GR, C_TL, C_LB])
step(469, 1007)

# Panel 4: Reactant2 Network
ax4 = make_axes((590.7, 725.3, 1032.4, 1017.8), (-0.2, 2.3), (0.48, 0.78),
                r2_xticks, r2_xlabels, r2_yticks, r2_ylabels, 5)
draw(ax4, r2_raw_fp2_4096_x, r2_raw_fp2_4096_y, C_TL, True)
draw(ax4, r2_raw_fp3_2048_x, r2_raw_fp3_2048_y, C_DB, True)
draw(ax4, r2_raw_fp2_2048_x, r2_raw_fp2_2048_y, C_GR, True)
draw(ax4, r2_raw_fp2_1024_x, r2_raw_fp2_1024_y, C_PK, True)
draw(ax4, r2_raw_fp3_8192_x, r2_raw_fp3_8192_y, C_RD, True)
draw(ax4, r2_fp2_2048_x, r2_fp2_2048_y, C_GR)
draw(ax4, r2_fp2_4096_x, r2_fp2_4096_y, C_TL)
draw(ax4, r2_fp3_8192_x, r2_fp3_8192_y, C_RD)
draw(ax4, r2_fp3_4096_x, r2_fp3_4096_y, C_OR)
draw(ax4, r2_fp2_1024_x, r2_fp2_1024_y, C_PK)
draw(ax4, r2_fp3_2048_x, r2_fp3_2048_y, C_DB)
title(811, 562, 'Reactant2 Network')
legend((609, 662), (807, 860), (612, 658, 703), [C_PK, C_GR, C_TL, C_DB, C_OR, C_RD])
step(988, 997)

fig.savefig('out.png', dpi=100, facecolor='white')
